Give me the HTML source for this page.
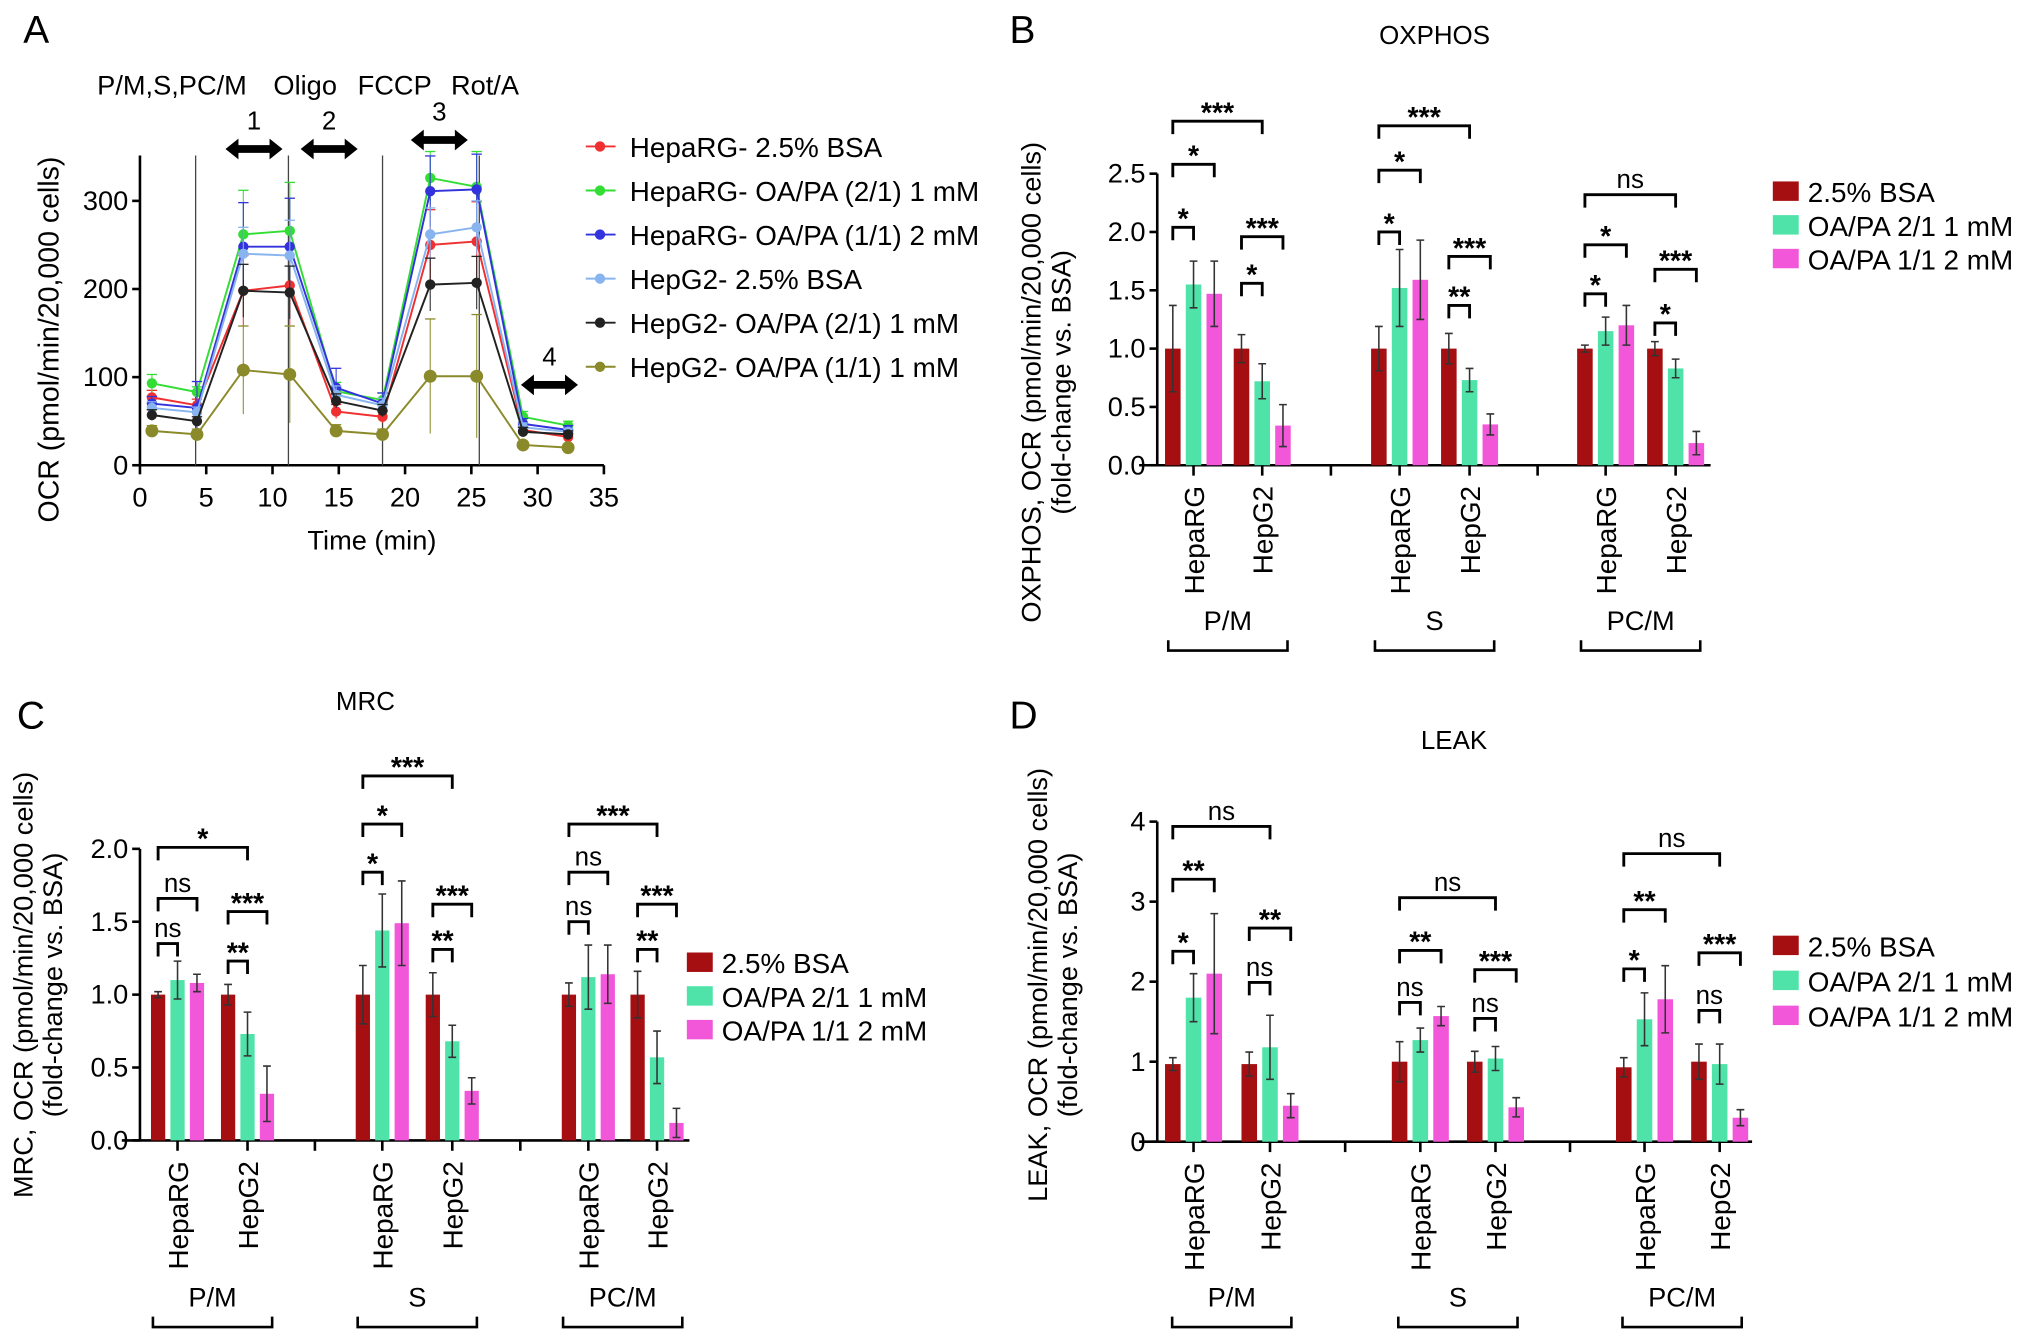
<!DOCTYPE html>
<html><head><meta charset="utf-8">
<style>
html,body{margin:0;padding:0;background:#fff;}
svg{display:block;font-family:"Liberation Sans",Arial,sans-serif;}
</style></head>
<body>
<svg id="fig" width="2032" height="1340" viewBox="0 0 1568 1034" xmlns="http://www.w3.org/2000/svg"></svg>
<script>
// ---------- Panel A data ----------
const aTimes = [0.9, 4.3, 7.8, 11.3, 14.8, 18.3, 21.9, 25.4, 28.9, 32.3];
const aXTicks = [0, 5, 10, 15, 20, 25, 30, 35];
const aYTicks = [0, 100, 200, 300];
const aNames = ["HepaRG- 2.5% BSA", "HepaRG- OA/PA (2/1) 1 mM", "HepaRG- OA/PA (1/1) 2 mM", "HepG2- 2.5% BSA", "HepG2- OA/PA (2/1) 1 mM", "HepG2- OA/PA (1/1) 1 mM"];
const aRed = [77, 68, 198, 204, 61, 55, 250, 254, 40, 32];
const aGreen = [93, 83, 262, 266, 84, 74, 326, 316, 55, 45];
const aBlue = [70, 65, 248, 248, 88, 70, 311, 313, 47, 40];
const aLightBlue = [65, 60, 240, 238, 80, 68, 262, 270, 43, 38];
const aBlack = [57, 50, 198, 196, 73, 62, 205, 207, 38, 35];
const aOlive = [39, 35, 108, 103, 39, 35, 101, 101, 23, 20];
const aErrRed = [8, 7, 40, 45, 8, 7, 40, 45, 5, 4];
const aErrGreen = [10, 6, 50, 55, 10, 8, 30, 40, 6, 5];
const aErrBlue = [8, 30, 50, 55, 22, 12, 40, 40, 6, 5];
const aErrLightBlue = [7, 6, 30, 40, 10, 8, 30, 30, 5, 4];
const aErrBlack = [6, 5, 30, 30, 8, 7, 30, 30, 5, 4];
const aErrOlive = [6, 6, 50, 55, 7, 6, 65, 70, 3, 3];
const aInjections = [4.2, 11.2, 18.3, 25.6];

// ---------- Bar panel shared ----------
const barCategories = ["HepaRG", "HepG2", "HepaRG", "HepG2", "HepaRG", "HepG2"];
const barGroups = ["P/M", "S", "PC/M"];
const barSeriesNames = ["2.5% BSA", "OA/PA 2/1 1 mM", "OA/PA 1/1 2 mM"];

// Panel B (OXPHOS)
const bBSA = [1.0, 1.0, 1.0, 1.0, 1.0, 1.0];
const bOA21 = [1.55, 0.72, 1.52, 0.73, 1.15, 0.83];
const bOA11 = [1.47, 0.34, 1.59, 0.35, 1.2, 0.19];
const bErrBSA = [0.37, 0.12, 0.19, 0.13, 0.03, 0.06];
const bErrOA21 = [0.2, 0.15, 0.33, 0.1, 0.12, 0.08];
const bErrOA11 = [0.28, 0.18, 0.34, 0.09, 0.17, 0.1];
const bYTicks = ["0.0", "0.5", "1.0", "1.5", "2.0", "2.5"];
// brackets: [pairFrom, seriesFrom, pairTo, seriesTo, value, label]
const bBrackets = [[0,0,0,1,2.04,"*"],[0,0,0,2,2.58,"*"],[0,0,1,1,2.95,"***"],[1,0,1,1,1.56,"*"],[1,0,1,2,1.96,"***"],
 [2,0,2,1,2.0,"*"],[2,0,2,2,2.53,"*"],[2,0,3,1,2.91,"***"],[3,0,3,1,1.37,"**"],[3,0,3,2,1.79,"***"],
 [4,0,4,1,1.47,"*"],[4,0,4,2,1.89,"*"],[4,0,5,1,2.32,"ns"],[5,0,5,1,1.22,"*"],[5,0,5,2,1.68,"***"]];

// Panel C (MRC)
const cBSA = [1.0, 1.0, 1.0, 1.0, 1.0, 1.0];
const cOA21 = [1.1, 0.73, 1.44, 0.68, 1.12, 0.57];
const cOA11 = [1.08, 0.32, 1.49, 0.34, 1.14, 0.12];
const cErrBSA = [0.02, 0.07, 0.2, 0.15, 0.08, 0.16];
const cErrOA21 = [0.13, 0.15, 0.25, 0.11, 0.22, 0.18];
const cErrOA11 = [0.06, 0.19, 0.29, 0.09, 0.2, 0.1];
const cYTicks = ["0.0", "0.5", "1.0", "1.5", "2.0"];
const cBrackets = [[0,0,0,1,1.35,"ns"],[0,0,0,2,1.66,"ns"],[0,0,1,1,2.01,"*"],[1,0,1,1,1.23,"**"],[1,0,1,2,1.57,"***"],
 [2,0,2,1,1.84,"*"],[2,0,2,2,2.17,"*"],[2,0,3,1,2.5,"***"],[3,0,3,1,1.31,"**"],[3,0,3,2,1.62,"***"],
 [4,0,4,1,1.5,"ns"],[4,0,4,2,1.84,"ns"],[4,0,5,1,2.17,"***"],[5,0,5,1,1.31,"**"],[5,0,5,2,1.62,"***"]];

// Panel D (LEAK)
const dBSA = [0.97, 0.97, 1.0, 1.0, 0.93, 1.0];
const dOA21 = [1.8, 1.18, 1.27, 1.04, 1.53, 0.97];
const dOA11 = [2.1, 0.45, 1.57, 0.43, 1.78, 0.3];
const dErrBSA = [0.08, 0.15, 0.25, 0.13, 0.12, 0.22];
const dErrOA21 = [0.3, 0.4, 0.15, 0.15, 0.33, 0.25];
const dErrOA11 = [0.75, 0.15, 0.12, 0.12, 0.42, 0.1];
const dYTicks = ["0", "1", "2", "3", "4"];
const dBrackets = [[0,0,0,1,2.38,"*"],[0,0,0,2,3.28,"**"],[0,0,1,1,3.94,"ns"],[1,0,1,1,1.99,"ns"],[1,0,1,2,2.67,"**"],
 [2,0,2,1,1.74,"ns"],[2,0,2,2,2.39,"**"],[2,0,3,1,3.05,"ns"],[3,0,3,1,1.54,"ns"],[3,0,3,2,2.15,"***"],
 [4,0,4,1,2.16,"*"],[4,0,4,2,2.9,"**"],[4,0,5,1,3.6,"ns"],[5,0,5,1,1.64,"ns"],[5,0,5,2,2.36,"***"]];

const NS = "http://www.w3.org/2000/svg";
const svg = document.getElementById("fig");
function mk(tag, attrs, parent, text) {
  const e = document.createElementNS(NS, tag);
  for (const k in attrs) e.setAttribute(k, attrs[k]);
  if (text !== undefined) e.textContent = text;
  (parent || svg).appendChild(e);
  return e;
}
let el;

// ---------- Panel A ----------
(function(){
  const g = mk("g", {});
  
  
  const x0 = 108, xPer = (466 - 108) / 35, y0 = 359, yPer = (359 - 155) / 300;
  const X = t => x0 + t * xPer, Y = v => y0 - v * yPer;
  el = mk("text", {x: 18, y: 33, "font-size": 30}, g, "A");
  
  
  el = mk("line", {x1: x0, y1: 120, x2: x0, y2: y0, stroke: "#000", "stroke-width": 2}, g);
  
  
  el = mk("line", {x1: x0, y1: y0, x2: X(35), y2: y0, stroke: "#000", "stroke-width": 2}, g);
  
  
  aYTicks.forEach(v => {
    el = mk("line", {x1: x0 - 6, y1: Y(v), x2: x0, y2: Y(v), stroke: "#000", "stroke-width": 2}, g);
    
    
    el = mk("text", {x: x0 - 9, y: Y(v) + 7, "font-size": 21, "text-anchor": "end"}, g, String(v));
    
    
  });
  aXTicks.forEach(v => {
    el = mk("line", {x1: X(v), y1: y0, x2: X(v), y2: y0 + 7, stroke: "#000", "stroke-width": 2}, g);
    
    
    el = mk("text", {x: X(v), y: y0 + 32, "font-size": 21, "text-anchor": "middle"}, g, String(v));
    
    
  });
  el = mk("text", {x: X(17.5), y: 424, "font-size": 21, "text-anchor": "middle"}, g, "Time (min)");
  
  
  el = mk("text", {x: 0, y: 0, "font-size": 22, "text-anchor": "middle", transform: "translate(45,262) rotate(-90)"}, g, "OCR (pmol/min/20,000 cells)");
  
  
  aInjections.forEach(t => {
    el = mk("line", {x1: X(t), y1: 120, x2: X(t), y2: y0, stroke: "#444", "stroke-width": 1}, g);
    
    
  });
  el = mk("text", {x: 75, y: 73, "font-size": 21}, g, "P/M,S,PC/M");
  
  
  el = mk("text", {x: 211, y: 73, "font-size": 21}, g, "Oligo");
  
  
  el = mk("text", {x: 276, y: 73, "font-size": 21}, g, "FCCP");
  
  
  el = mk("text", {x: 348, y: 73, "font-size": 21}, g, "Rot/A");
  
  
  const arrows = [[196, 115, "1"], [254, 115, "2"], [339, 108, "3"], [424, 297, "4"]];
  arrows.forEach(a => {
    const [cx, cy, lab] = a;
    el = mk("path", {d: `M${cx-22},${cy} l10,-8 v5 h24 v-5 l10,8 l-10,8 v-5 h-24 v5 z`, fill: "#000"}, g);
    
    
    el = mk("text", {x: cx, y: cy - 15, "font-size": 20, "text-anchor": "middle"}, g, lab);
    
    
  });
  const series = [[aRed, aErrRed, "#f03030"], [aGreen, aErrGreen, "#33dd33"], [aBlue, aErrBlue, "#3333dd"],
    [aLightBlue, aErrLightBlue, "#88b4f0"], [aBlack, aErrBlack, "#222"], [aOlive, aErrOlive, "#8a8a2a"]];
  series.forEach((s, si) => {
    const [vals, errs, col] = s;
    const sg = mk("g", {}, g);
    
    
    vals.forEach((v, i) => {
      const x = X(aTimes[i]);
      el = mk("line", {x1: x, y1: Y(v - errs[i]), x2: x, y2: Y(v + errs[i]), stroke: col, "stroke-width": 1, opacity: 0.8}, sg);
      
      
      el = mk("line", {x1: x - 4, y1: Y(v + errs[i]), x2: x + 4, y2: Y(v + errs[i]), stroke: col, "stroke-width": 1}, sg);
      
      
    });
    el = mk("polyline", {points: vals.map((v, i) => X(aTimes[i]) + "," + Y(v)).join(" "), fill: "none", stroke: col, "stroke-width": 1.5}, sg);
    
    
    vals.forEach((v, i) => {
      const x = X(aTimes[i]);
      el = mk("circle", {cx: x, cy: Y(v), r: si === 5 ? 5 : 4, fill: col}, sg);
      
      
    });
    const ly = 113 + si * 34;
    el = mk("line", {x1: 452, y1: ly, x2: 475, y2: ly, stroke: col, "stroke-width": 1.5}, g);
    
    
    el = mk("circle", {cx: 463, cy: ly, r: 4, fill: col}, g);
    
    
    el = mk("text", {x: 486, y: ly + 8, "font-size": 21.5}, g, aNames[si]);
    
    
  });
})();

// ---------- Bar panels ----------
const barColors = ["#a50f12", "#4fe3aa", "#f257da"];
function barPanel(cfg) {
  const g = mk("g", {});
  
  
  const Y = v => cfg.y0 - v * cfg.per;
  const maxTick = parseFloat(cfg.ticks[cfg.ticks.length - 1]);
  const barX = (p, s) => cfg.pairX[p] + s * cfg.off;
  el = mk("text", {x: cfg.letter[0], y: cfg.letter[1], "font-size": 30}, g, cfg.letterText);
  
  
  el = mk("text", {x: cfg.title[0], y: cfg.title[1], "font-size": 20, "text-anchor": "middle"}, g, cfg.titleText);
  
  
  el = mk("line", {x1: cfg.ax, y1: Y(maxTick), x2: cfg.ax, y2: cfg.y0, stroke: "#000", "stroke-width": 2}, g);
  
  
  el = mk("line", {x1: cfg.ax - 14, y1: cfg.y0, x2: cfg.axEnd, y2: cfg.y0, stroke: "#000", "stroke-width": 2}, g);
  
  
  cfg.ticks.forEach(t => {
    const v = parseFloat(t);
    el = mk("line", {x1: cfg.ax - 6, y1: Y(v), x2: cfg.ax, y2: Y(v), stroke: "#000", "stroke-width": 2}, g);
    
    
    el = mk("text", {x: cfg.ax - 9, y: Y(v) + 7, "font-size": 21, "text-anchor": "end"}, g, t);
    
    
  });
  el = mk("text", {x: 0, y: 0, "font-size": 21, "text-anchor": "middle", transform: `translate(${cfg.ytx},${cfg.yty}) rotate(-90)`}, g, cfg.yTitle1);
  
  
  el = mk("text", {x: 0, y: 0, "font-size": 21, "text-anchor": "middle", transform: `translate(${cfg.ytx + 23},${cfg.yty}) rotate(-90)`}, g, "(fold-change vs. BSA)");
  
  
  const vals = [cfg.v0, cfg.v1, cfg.v2], errs = [cfg.e0, cfg.e1, cfg.e2];
  for (let s = 0; s < 3; s++) {
    for (let p = 0; p < 6; p++) {
      const x = barX(p, s), v = vals[s][p], e = errs[s][p];
      el = mk("rect", {x: x - cfg.bw / 2, y: Y(v), width: cfg.bw, height: v * cfg.per, fill: barColors[s]}, g);
      
      
      el = mk("path", {d: `M${x},${Y(v - e)}V${Y(v + e)}M${x-3},${Y(v + e)}h6M${x-3},${Y(v - e)}h6`, stroke: "#333", "stroke-width": 1.2, fill: "none"}, g);
      
      
    }
  }
  for (let p = 0; p < 6; p++) {
    const x = barX(p, 1);
    el = mk("line", {x1: x, y1: cfg.y0, x2: x, y2: cfg.y0 + 8, stroke: "#000", "stroke-width": 2}, g);
    
    
    el = mk("text", {x: 0, y: 0, "font-size": 21.5, "text-anchor": "end", transform: `translate(${x + 8},${cfg.y0 + 16}) rotate(-90)`}, g, barCategories[p]);
    
    
  }
  for (let k = 0; k < 2; k++) {
    const x = (barX(2 * k + 1, 1) + barX(2 * k + 2, 1)) / 2;
    el = mk("line", {x1: x, y1: cfg.y0, x2: x, y2: cfg.y0 + 8, stroke: "#000", "stroke-width": 2}, g);
    
    
  }
  for (let k = 0; k < 3; k++) {
    const cx = (barX(2 * k, 1) + barX(2 * k + 1, 1)) / 2;
    el = mk("text", {x: cx, y: cfg.gy, "font-size": 21, "text-anchor": "middle"}, g, barGroups[k]);
    
    
    el = mk("path", {d: `M${cx-46},${cfg.gy+8}v8h92v-8`, stroke: "#000", "stroke-width": 2, fill: "none"}, g);
    
    
  }
  cfg.brackets.forEach(b => {
    const [p1, s1, p2, s2, v, lab] = b;
    const x1 = barX(p1, s1), x2 = barX(p2, s2), y = Y(v);
    el = mk("path", {d: `M${x1},${y+10}V${y}H${x2}V${y+10}`, stroke: "#000", "stroke-width": 2.2, fill: "none"}, g);
    
    
    el = mk("text", {x: (x1 + x2) / 2, y: y - 5 + (lab === "ns" ? 0 : 6), "font-size": lab === "ns" ? 20 : 22, "text-anchor": "middle", "font-weight": lab === "ns" ? "normal" : "bold"}, g, lab);
    
    
  }
  );
  for (let s = 0; s < 3; s++) {
    const ly = cfg.leg[1] + s * cfg.legGap;
    el = mk("rect", {x: cfg.leg[0], y: ly - 8, width: 20, height: 15, fill: barColors[s]}, g);
    
    
    el = mk("text", {x: cfg.leg[0] + 27, y: ly + 8, "font-size": 21.5}, g, barSeriesNames[s]);
    
    
  }
}

barPanel({name: "panel-b", letterText: "B", letter: [779, 33], titleText: "OXPHOS", title: [1107, 34],
  ax: 893, axEnd: 1320, y0: 359, per: 90, ticks: bYTicks, pairX: [905, 958, 1064, 1118, 1223, 1277], off: 16, bw: 12,
  v0: bBSA, v1: bOA21, v2: bOA11, e0: bErrBSA, e1: bErrOA21, e2: bErrOA11, brackets: bBrackets,
  yTitle1: "OXPHOS, OCR (pmol/min/20,000 cells)", ytx: 803, yty: 295, gy: 486, leg: [1368, 148], legGap: 26});
barPanel({name: "panel-c", letterText: "C", letter: [13, 562], titleText: "MRC", title: [282, 548],
  ax: 108, axEnd: 532, y0: 880, per: 112.5, ticks: cYTicks, pairX: [122, 176, 280, 334, 439, 492], off: 15, bw: 11,
  v0: cBSA, v1: cOA21, v2: cOA11, e0: cErrBSA, e1: cErrOA21, e2: cErrOA11, brackets: cBrackets,
  yTitle1: "MRC, OCR (pmol/min/20,000 cells)", ytx: 25, yty: 760, gy: 1008, leg: [530, 743], legGap: 26});
barPanel({name: "panel-d", letterText: "D", letter: [779, 562], titleText: "LEAK", title: [1122, 578],
  ax: 893, axEnd: 1352, y0: 881, per: 61.75, ticks: dYTicks, pairX: [905, 964, 1080, 1138, 1253, 1311], off: 16, bw: 12,
  v0: dBSA, v1: dOA21, v2: dOA11, e0: dErrBSA, e1: dErrOA21, e2: dErrOA11, brackets: dBrackets,
  yTitle1: "LEAK, OCR (pmol/min/20,000 cells)", ytx: 808, yty: 760, gy: 1008, leg: [1368, 730], legGap: 27});
</script>
</body></html>
